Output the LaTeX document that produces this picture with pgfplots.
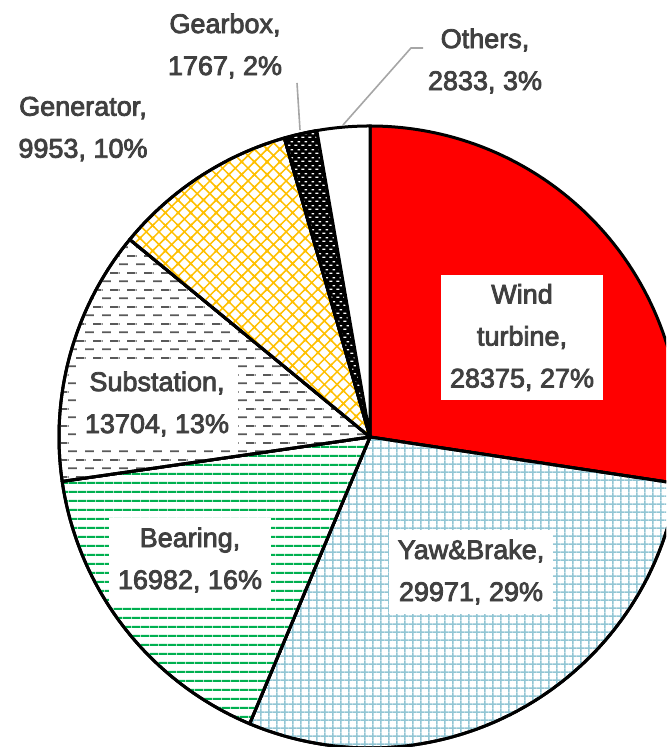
\documentclass[border=0pt]{standalone}
\usepackage{pgfplots}
\pgfplotsset{compat=1.18}
\usepackage{pgfplotstable}
\usetikzlibrary{patterns}
\usepackage{fontspec}
\setmainfont{Liberation Sans}
\newfontfamily\labfont{Liberation Sans}[FakeBold=3]
\definecolor{txt}{HTML}{404040}
\definecolor{yawblue}{RGB}{146,198,212}
\definecolor{bearg}{HTML}{00B050}
\definecolor{gold}{HTML}{FFC000}
\definecolor{dashg}{HTML}{595959}
\definecolor{leader}{HTML}{A6A6A6}

\pgfdeclarepatternformonly{subdash}{\pgfqpoint{0pt}{0pt}}{\pgfqpoint{8.6pt}{8.6pt}}{\pgfqpoint{8.6pt}{8.6pt}}{%
  \pgfsetlinewidth{0.9pt}%
  \pgfpathmoveto{\pgfqpoint{0pt}{2pt}}\pgfpathlineto{\pgfqpoint{4.6pt}{2pt}}%
  \pgfpathmoveto{\pgfqpoint{4.3pt}{6.3pt}}\pgfpathlineto{\pgfqpoint{8.6pt}{6.3pt}}%
  \pgfpathmoveto{\pgfqpoint{0pt}{6.3pt}}\pgfpathlineto{\pgfqpoint{0.3pt}{6.3pt}}%
  \pgfusepath{stroke}}
\pgfdeclarepatternformonly{geardash}{\pgfqpoint{0pt}{0pt}}{\pgfqpoint{3.6pt}{4pt}}{\pgfqpoint{3.6pt}{4pt}}{%
  \pgfsetlinewidth{0.7pt}%
  \pgfpathmoveto{\pgfqpoint{0.2pt}{1pt}}\pgfpathlineto{\pgfqpoint{1.8pt}{1pt}}%
  \pgfpathmoveto{\pgfqpoint{2pt}{3pt}}\pgfpathlineto{\pgfqpoint{3.4pt}{3pt}}%
  \pgfusepath{stroke}}
\pgfdeclarepatternformonly{yawgrid}{\pgfqpoint{0pt}{0pt}}{\pgfqpoint{4.15pt}{4.15pt}}{\pgfqpoint{4.15pt}{4.15pt}}{%
  \pgfsetlinewidth{0.9pt}%
  \pgfpathmoveto{\pgfqpoint{2.075pt}{0pt}}\pgfpathlineto{\pgfqpoint{2.075pt}{4.15pt}}%
  \pgfpathmoveto{\pgfqpoint{0pt}{2.075pt}}\pgfpathlineto{\pgfqpoint{4.15pt}{2.075pt}}%
  \pgfusepath{stroke}}
\pgfdeclarepatternformonly{bearlines}{\pgfqpoint{0pt}{0pt}}{\pgfqpoint{4.35pt}{4.35pt}}{\pgfqpoint{4.35pt}{4.35pt}}{%
  \pgfsetlinewidth{1pt}%
  \pgfpathmoveto{\pgfqpoint{0pt}{2.175pt}}\pgfpathlineto{\pgfqpoint{4.35pt}{2.175pt}}%
  \pgfusepath{stroke}}
\pgfdeclarepatternformonly{gendiamond}{\pgfqpoint{-1pt}{-1pt}}{\pgfqpoint{7.36pt}{7.36pt}}{\pgfqpoint{6.36pt}{6.36pt}}{%
  \pgfsetlinewidth{0.75pt}%
  \pgfpathmoveto{\pgfqpoint{-1pt}{-1pt}}\pgfpathlineto{\pgfqpoint{7.36pt}{7.36pt}}%
  \pgfpathmoveto{\pgfqpoint{-1pt}{7.36pt}}\pgfpathlineto{\pgfqpoint{7.36pt}{-1pt}}%
  \pgfusepath{stroke}}

\pgfplotstableread{
name value
WindTurbine 28375
YawBrake 29971
Bearing 16982
Substation 13704
Generator 9953
Gearbox 1767
Others 2833
}\piedata

\pgfplotsset{
  slicebase/.style={draw=black, line width=1.5pt, line join=round, line cap=round},
  slice0/.style={slicebase, fill=red},
  slice1/.style={slicebase, fill=white, postaction={pattern=yawgrid, pattern color=yawblue}},
  slice2/.style={slicebase, fill=white, postaction={pattern=bearlines, pattern color=bearg}},
  slice3/.style={slicebase, fill=white, postaction={pattern=subdash, pattern color=dashg}},
  slice4/.style={slicebase, fill=white, postaction={pattern=gendiamond, pattern color=gold}},
  slice5/.style={slicebase, fill=black, postaction={pattern=geardash, pattern color=white}},
  slice6/.style={slicebase, fill=white},
}

\newcount\kk
\def\buildslice#1#2#3{%
  \def\coords{(370,310)}%
  \kk=0
  \loop
    \edef\coords{\coords (\fpeval{round(370+311*cosd(#2+(#3-#2)*\the\kk/90),3)},\fpeval{round(310+311*sind(#2+(#3-#2)*\the\kk/90),3)})}%
  \ifnum\kk<90 \advance\kk by 1 \repeat
  \edef\coords{\coords (370,310)}%
  \expandafter\global\expandafter\let\csname slicecoords#1\endcsname\coords
}

\begin{document}
\begin{tikzpicture}
\gdef\total{0}
\foreach \i in {0,...,6}{%
  \pgfplotstablegetelem{\i}{value}\of\piedata
  \xdef\total{\fpeval{\total+\pgfplotsretval}}%
}
\gdef\cum{0}
\foreach \i in {0,...,6}{%
  \pgfplotstablegetelem{\i}{value}\of\piedata
  \edef\angA{\fpeval{90-360*\cum/\total}}%
  \xdef\cum{\fpeval{\cum+\pgfplotsretval}}%
  \edef\angB{\fpeval{90-360*\cum/\total}}%
  \buildslice{\i}{\angA}{\angB}%
}
\begin{axis}[
  x=0.5pt, y=0.5pt,
  xmin=0, xmax=666, ymin=0, ymax=747,
  enlargelimits=false,
  hide axis,
  clip=true,
]
\pgfplotsforeachungrouped \i in {0,...,6}{%
  \edef\doplot{\noexpand\addplot[slice\i] coordinates {\csname slicecoords\i\endcsname};}%
  \doplot
}
% leader lines
\draw[leader, line width=0.8pt] (axis cs:297,664) -- (axis cs:300,617);
\draw[leader, line width=0.8pt] (axis cs:423,699) -- (axis cs:411,699) -- (axis cs:343,622);
% labels
\begin{scope}[every node/.style={text=txt, align=center, font=\labfont\fontsize{13.5}{21}\selectfont, inner xsep=4.3pt, inner ysep=4.5pt}]
\node[fill=white] at (axis cs:522,409.5) {Wind\\turbine,\\28375, 27\%};
\node[fill=white] at (axis cs:471,175) {Yaw\&Brake,\\29971, 29\%};
\node[fill=white] at (axis cs:190,187) {Bearing,\\16982, 16\%};
\node[fill=white] at (axis cs:157,343) {Substation,\\13704, 13\%};
\node at (axis cs:83,618) {Generator,\\9953, 10\%};
\node at (axis cs:225,701) {Gearbox,\\1767, 2\%};
\node at (axis cs:485,686) {Others,\\2833, 3\%};
\end{scope}
\end{axis}
\pgfresetboundingbox
\useasboundingbox (current axis.south west) rectangle (current axis.north east);
\end{tikzpicture}
\end{document}
